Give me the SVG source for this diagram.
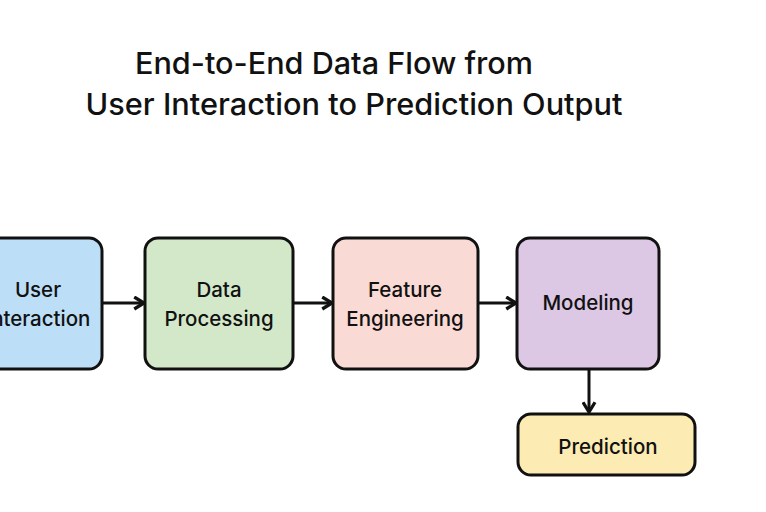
<svg xmlns="http://www.w3.org/2000/svg" width="766" height="512" viewBox="0 0 766 512">
<defs>
<style>
.box{stroke:#111;stroke-width:3}
.lbl{font-family:Inter,"Liberation Sans",sans-serif;font-size:20.5px;font-weight:500;fill:#111;text-anchor:middle}
.title{font-family:Inter,"Liberation Sans",sans-serif;font-size:30px;font-weight:500;fill:#111;text-anchor:middle}
.conn{stroke:#111;stroke-width:3;fill:none;marker-end:url(#ah)}
</style>
<marker id="ah" viewBox="0 0 10 10" refX="8.5" refY="5" markerWidth="5" markerHeight="5" orient="auto" markerUnits="strokeWidth">
<path d="M2,1 L8.5,5 L2,9" fill="none" stroke="#111" stroke-width="2.2"/>
</marker>
</defs>
<rect width="766" height="512" fill="#fff"/>
<g id="title">
<text class="title" x="334" y="74" textLength="398" lengthAdjust="spacingAndGlyphs">End-to-End Data Flow from</text>
<text class="title" x="354" y="115" textLength="537" lengthAdjust="spacingAndGlyphs">User Interaction to Prediction Output</text>
</g>
<g id="connectors">
<line class="conn" x1="102" y1="303" x2="144" y2="303"/>
<line class="conn" x1="293" y1="303" x2="332" y2="303"/>
<line class="conn" x1="478" y1="303" x2="516" y2="303"/>
<line class="conn" x1="589" y1="369" x2="589" y2="412"/>
</g>
<g id="user-interaction">
<rect class="box" x="-26" y="238" width="128" height="131" rx="13" fill="#BDDEF7"/>
<text class="lbl" x="38" y="297">User</text>
<text class="lbl" x="38" y="326">Interaction</text>
</g>
<g id="data-processing">
<rect class="box" x="145" y="238" width="148" height="131" rx="13" fill="#D3E8C9"/>
<text class="lbl" x="219" y="297">Data</text>
<text class="lbl" x="219" y="326">Processing</text>
</g>
<g id="feature-engineering">
<rect class="box" x="333" y="238" width="145" height="131" rx="13" fill="#FADAD4"/>
<text class="lbl" x="405" y="297">Feature</text>
<text class="lbl" x="405" y="326">Engineering</text>
</g>
<g id="modeling">
<rect class="box" x="517" y="238" width="142" height="131" rx="13" fill="#DCC7E4"/>
<text class="lbl" x="588" y="310">Modeling</text>
</g>
<g id="prediction">
<rect class="box" x="518" y="414" width="177" height="61" rx="13" fill="#FCEBB2"/>
<text class="lbl" x="608" y="454">Prediction</text>
</g>
</svg>
